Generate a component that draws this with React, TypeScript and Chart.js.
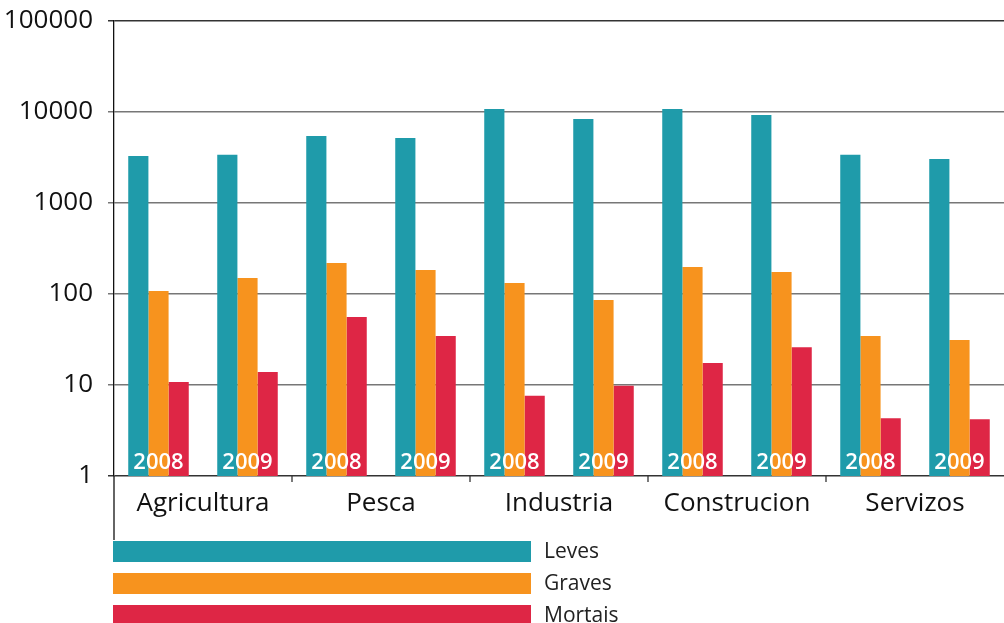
import React, { useEffect, useRef } from "react";
import { Chart, registerables } from "chart.js";

Chart.register(...registerables);

const sectors = ["Agricultura", "Pesca", "Industria", "Construcion", "Servizos"];
const years = ["2008", "2009"];
const leves = [3285, 3400, 5450, 5180, 10800, 8380, 10800, 9270, 3380, 3045];
const graves = [108, 150, 219, 183, 132, 86, 198, 175, 34.5, 31.2];
const mortais = [10.8, 13.9, 56, 34.5, 7.6, 9.8, 17.5, 26, 4.3, 4.2];
const yTicks = [1, 10, 100, 1000, 10000, 100000];
const seriesNames = ["Leves", "Graves", "Mortais"];
const seriesColors = ["#1f9baa", "#f7931e", "#de2645"];

const FONT = "'Open Sans', 'Noto Sans', sans-serif";

const overlayPlugin = {
  id: "overlay",
  afterDatasetsDraw(chart: any) {
    const { ctx, scales } = chart;
    const x = scales.x;
    const labels: string[] = chart.data.labels;
    ctx.save();
    ctx.fillStyle = "#ffffff";
    ctx.font = `600 22px ${FONT}`;
    ctx.textAlign = "center";
    ctx.textBaseline = "alphabetic";
    labels.forEach((lab, i) => {
      const year = lab.split(" ")[1];
      ctx.fillText(year, x.getPixelForValue(i), chart.chartArea.bottom - 7);
    });
    ctx.restore();
  },
  afterDraw(chart: any) {
    const { ctx, scales, chartArea } = chart;
    const x = scales.x;
    const half = (x.getPixelForValue(1) - x.getPixelForValue(0)) / 2;
    ctx.save();
    // left line extension
    ctx.strokeStyle = "#111";
    ctx.lineWidth = 1.3;
    ctx.beginPath();
    ctx.moveTo(chartArea.left, chartArea.bottom);
    ctx.lineTo(chartArea.left, 540);
    ctx.stroke();
    // separator ticks
    ctx.strokeStyle = "#333";
    for (let k = 1; k < sectors.length; k++) {
      const px = x.getPixelForValue(k * years.length) - half;
      ctx.beginPath();
      ctx.moveTo(px, chartArea.bottom);
      ctx.lineTo(px, chartArea.bottom + 6);
      ctx.stroke();
    }
    // sector labels
    ctx.fillStyle = "#111";
    ctx.font = `26px ${FONT}`;
    ctx.textAlign = "center";
    ctx.textBaseline = "alphabetic";
    sectors.forEach((s, k) => {
      const a = x.getPixelForValue(k * years.length);
      const b = x.getPixelForValue(k * years.length + years.length - 1);
      ctx.fillText(s, (a + b) / 2, chartArea.bottom + 35);
    });
    // legend
    ctx.font = `21px ${FONT}`;
    ctx.textAlign = "left";
    ctx.textBaseline = "middle";
    chart.data.datasets.forEach((ds: any, i: number) => {
      const top = 541 + i * 32;
      ctx.fillStyle = ds.backgroundColor;
      ctx.fillRect(113, top, 418, 21);
      ctx.fillStyle = "#222";
      ctx.fillText(ds.label, 544, top + 11);
    });
    ctx.restore();
  },
};

export default function App() {
  const ref = useRef<HTMLCanvasElement | null>(null);
  useEffect(() => {
    if (!ref.current) return;
    const labels = sectors.flatMap((s) => years.map((y) => `${s} ${y}`));
    const chart = new Chart(ref.current, {
      type: "bar",
      data: {
        labels,
        datasets: [leves, graves, mortais].map((d, i) => ({
          label: seriesNames[i],
          data: d,
          backgroundColor: seriesColors[i],
          borderWidth: 0,
          categoryPercentage: 0.68,
          barPercentage: 1,
        })),
      },
      options: {
        animation: false,
        responsive: false,
        devicePixelRatio: 1,
        layout: { padding: { top: 21, left: 0, right: 0, bottom: 0 } },
        plugins: { legend: { display: false }, tooltip: { enabled: false } },
        scales: {
          x: {
            grid: { display: false },
            border: { display: false },
            ticks: { display: false },
            afterFit: (s: any) => {
              s.height = 147;
            },
          },
          y: {
            type: "logarithmic",
            min: 1,
            max: 100000,
            afterBuildTicks: (axis: any) => {
              axis.ticks = yTicks.map((v) => ({ value: v }));
            },
            afterFit: (s: any) => {
              s.width = 114;
              s.paddingTop = 0;
              s.paddingBottom = 0;
            },
            border: { display: true, color: "#111", width: 1.3 },
            grid: {
              color: (c: any) =>
                c.tick && (c.tick.value === 1 || c.tick.value === 100000) ? "#333" : "#777",
              lineWidth: 1.5,
              drawTicks: true,
              tickLength: 6,
            },
            ticks: {
              padding: 15,
              color: "#111",
              font: { family: FONT, size: 26 },
              callback: (v: any) => String(v),
            },
          },
        },
      },
      plugins: [overlayPlugin],
    });
    return () => chart.destroy();
  }, []);
  return (
    <div style={{ position: "absolute", left: 0, top: 0, width: 1004, height: 623 }}>
      <canvas ref={ref} width={1004} height={623} />
    </div>
  );
}
